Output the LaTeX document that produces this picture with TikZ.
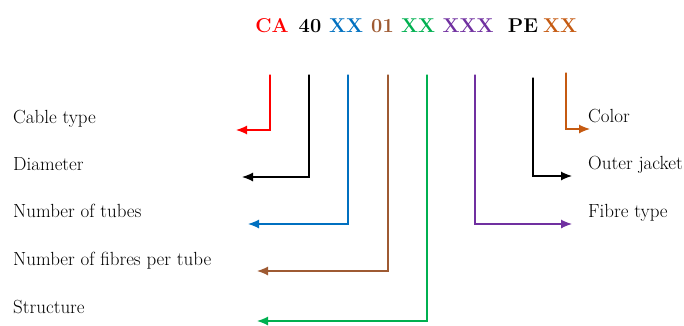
\documentclass[tikz,border=0pt]{standalone}
\usetikzlibrary{arrows.meta}
\definecolor{codered}{RGB}{255,0,0}
\definecolor{codeblue}{RGB}{0,112,192}
\definecolor{codebrown}{RGB}{158,90,50}
\definecolor{codegreen}{RGB}{0,176,80}
\definecolor{codepurple}{RGB}{112,48,160}
\definecolor{codeorange}{RGB}{197,90,17}
\begin{document}
\begin{tikzpicture}[x=1pt, y=1pt, line cap=round]
    % cable code and what each part of it stands for
    \useasboundingbox (0,0) rectangle (684,-325);
    \tikzset{
        part/.style={anchor=base, inner sep=0pt, font=\bfseries\fontsize{20}{24}\selectfont},
        lbl/.style={anchor=base west, inner sep=0pt, font=\fontsize{19}{22}\selectfont},
        lead/.style={line width=1.2pt, -{Latex[length=11pt,width=9pt]}},
    }
    \def\yt{-75}

    \node[part, codered] (pCA) at (272,-32) {CA};
    \node[part] (pD) at (310,-32) {40};
    \node[part, codeblue] (pT) at (346,-32) {XX};
    \node[part, codebrown] (pF) at (382.5,-32) {01};
    \node[part, codegreen] (pS) at (418,-32) {XX};
    \node[part, codepurple] (pY) at (468,-32) {XXX};
    \node[part] (pPE) at (523,-32) {PE};
    \node[part, codeorange] (pC) at (560,-32) {XX};

    \node[lbl] (cable) at (13,-123) {Cable type};
    \node[lbl] (diam) at (13,-170) {Diameter};
    \node[lbl] (tubes) at (13,-217) {Number of tubes};
    \node[lbl] (fibres) at (13,-265) {Number of fibres per tube};
    \node[lbl] (struct) at (13,-313) {Structure};
    \node[lbl] (color) at (588,-122) {Color};
    \node[lbl] (jacket) at (588,-169) {Outer jacket};
    \node[lbl] (ftype) at (588,-217) {Fibre type};

    \coordinate (tCA) at (270,\yt);
    \coordinate (tD) at (309,\yt);
    \coordinate (tT) at (348,\yt);
    \coordinate (tF) at (388,\yt);
    \coordinate (tS) at (427,\yt);
    \coordinate (tY) at (475,\yt);
    \coordinate (tPE) at (533,-78);
    \coordinate (tC) at (566,-73);

    \coordinate (eCA) at (236,-130);
    \coordinate (eD) at (242,-177);
    \coordinate (eT) at (248,-224);
    \coordinate (eF) at (257,-271);
    \coordinate (eS) at (257,-321);
    \coordinate (eY) at (572,-224);
    \coordinate (ePE) at (572,-176);
    \coordinate (eC) at (590,-129);

    \draw[lead, codered] (tCA) |- (eCA);
    \draw[lead, black] (tD) |- (eD);
    \draw[lead, codeblue] (tT) |- (eT);
    \draw[lead, codebrown] (tF) |- (eF);
    \draw[lead, codegreen] (tS) |- (eS);
    \draw[lead, codepurple] (tY) |- (eY);
    \draw[lead, black] (tPE) |- (ePE);
    \draw[lead, codeorange] (tC) |- (eC);
\end{tikzpicture}
\end{document}
